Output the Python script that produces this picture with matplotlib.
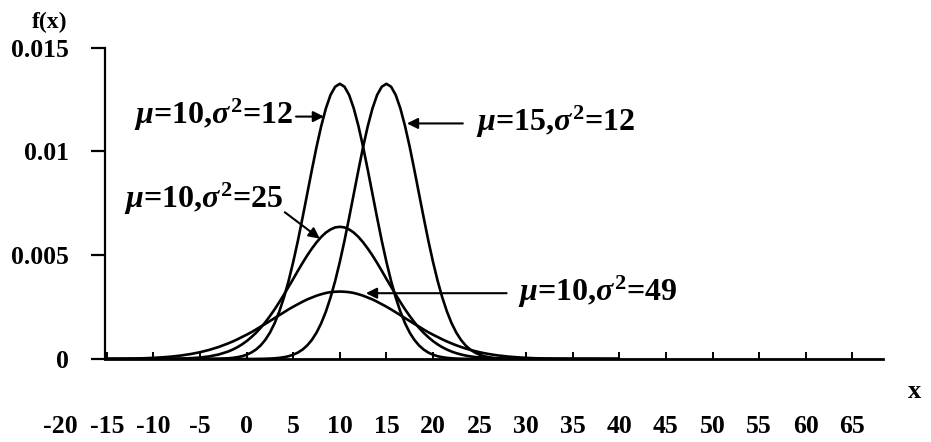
import matplotlib
matplotlib.use("Agg")
import matplotlib.pyplot as plt
import matplotlib.transforms as mtransforms

# ---------------- data ----------------
# integer x positions
x_vals = list(range(-15, 41))
# extra half-step positions around the peaks
x_half = [v + 0.5 for v in range(-2, 27)]

# mu=10, sigma^2=12
f_mu10_s12 = [0, 0, 0, 0, 0, 0, 0, 0, 0, 0,
              0.000001, 0.000004, 0.000012, 0.000033, 0.000086,
              0.000206, 0.000454, 0.00092, 0.00172, 0.00296,
              0.00468, 0.00681, 0.00911, 0.01122, 0.01272,
              0.01326,
              0.01272, 0.01122, 0.00911, 0.00681, 0.00468,
              0.00296, 0.00172, 0.00092, 0.000454, 0.000206,
              0.000086, 0.000033, 0.000012, 0.000004, 0.000001,
              0, 0, 0, 0, 0, 0, 0, 0, 0, 0, 0, 0, 0, 0, 0]
f_mu10_s12_half = [0.000054, 0.000134, 0.000309, 0.000653, 0.00127,
                   0.00228, 0.00376, 0.00570, 0.00796, 0.01022,
                   0.01207, 0.01312, 0.01312, 0.01207, 0.01022,
                   0.00796, 0.00570, 0.00376, 0.00228, 0.00127,
                   0.000653, 0.000309, 0.000134, 0.000054, 0.00002,
                   0.000007, 0.000002, 0.0000005, 0]

# mu=15, sigma^2=12
f_mu15_s12 = [0, 0, 0, 0, 0, 0, 0, 0, 0, 0, 0, 0, 0, 0, 0,
              0.000001, 0.000004, 0.000012, 0.000033, 0.000086,
              0.000206, 0.000454, 0.00092, 0.00172, 0.00296,
              0.00468, 0.00681, 0.00911, 0.01122, 0.01272,
              0.01326,
              0.01272, 0.01122, 0.00911, 0.00681, 0.00468,
              0.00296, 0.00172, 0.00092, 0.000454, 0.000206,
              0.000086, 0.000033, 0.000012, 0.000004, 0.000001,
              0, 0, 0, 0, 0, 0, 0, 0, 0, 0]
f_mu15_s12_half = [0, 0, 0.000002, 0.000007, 0.00002,
                   0.000054, 0.000134, 0.000309, 0.000653, 0.00127,
                   0.00228, 0.00376, 0.00570, 0.00796, 0.01022,
                   0.01207, 0.01312, 0.01312, 0.01207, 0.01022,
                   0.00796, 0.00570, 0.00376, 0.00228, 0.00127,
                   0.000653, 0.000309, 0.000134, 0.000054]

# mu=10, sigma^2=25
f_mu10_s25 = [0, 0, 0, 0.0000005, 0.000001,
              0.000002, 0.000005, 0.00001, 0.00002, 0.000038,
              0.000071, 0.000126, 0.000217, 0.000357, 0.000566,
              0.000862, 0.00126, 0.00177, 0.00239, 0.00310,
              0.00386, 0.00463, 0.00532, 0.00588, 0.00624,
              0.00637,
              0.00624, 0.00588, 0.00532, 0.00463, 0.00386,
              0.00310, 0.00239, 0.00177, 0.00126, 0.000862,
              0.000566, 0.000357, 0.000217, 0.000126, 0.000071,
              0.000038, 0.00002, 0.00001, 0.000005, 0.000002,
              0, 0, 0, 0, 0, 0, 0, 0, 0, 0]
f_mu10_s25_half = [0.000452, 0.000703, 0.00105, 0.00150, 0.00207,
                   0.00274, 0.00348, 0.00425, 0.00499, 0.00562,
                   0.00609, 0.00634, 0.00634, 0.00609, 0.00562,
                   0.00499, 0.00425, 0.00348, 0.00274, 0.00207,
                   0.00150, 0.00105, 0.000703, 0.000452, 0.00028,
                   0.000166, 0.000095, 0.000052, 0.000028]

# mu=10, sigma^2=49
f_mu10_s49 = [0.0000055, 0.000009, 0.000015, 0.000023, 0.000036,
              0.000055, 0.000082, 0.000119, 0.000170, 0.000239,
              0.000327, 0.000440, 0.000579, 0.000748, 0.000945,
              0.00117, 0.00142, 0.00169, 0.00197, 0.00225,
              0.00252, 0.00276, 0.00296, 0.00312, 0.00322,
              0.00325,
              0.00322, 0.00312, 0.00296, 0.00276, 0.00252,
              0.00225, 0.00197, 0.00169, 0.00142, 0.00117,
              0.000945, 0.000748, 0.000579, 0.000440, 0.000327,
              0.000239, 0.000170, 0.000119, 0.000082, 0.000055,
              0.000036, 0.000023, 0.000015, 0.000009, 0.0000055,
              0.000003, 0.000002, 0.000001, 0, 0]
f_mu10_s49_half = [0.000843, 0.00106, 0.00129, 0.00156, 0.00183,
                   0.00211, 0.00239, 0.00264, 0.00287, 0.00305,
                   0.00318, 0.00324, 0.00324, 0.00318, 0.00305,
                   0.00287, 0.00264, 0.00239, 0.00211, 0.00183,
                   0.00156, 0.00129, 0.00106, 0.000843, 0.00066,
                   0.000506, 0.00038, 0.00028, 0.000202]

x_ticks = [-15, -10, -5, 0, 5, 10, 15, 20, 25, 30, 35, 40, 45, 50, 55, 60, 65]
x_tick_labels = ["-15", "-10", "-5", "0", "5", "10", "15", "20", "25", "30",
                 "35", "40", "45", "50", "55", "60", "65"]
extra_x_label = "-20"
y_ticks = [0, 0.005, 0.01, 0.015]
y_tick_labels = ["0", "0.005", "0.01", "0.015"]

labels = [r"$\mu$=10,$\sigma^2$=12", r"$\mu$=15,$\sigma^2$=12",
          r"$\mu$=10,$\sigma^2$=25", r"$\mu$=10,$\sigma^2$=49"]

# ---------------- styling ----------------
plt.rcParams["font.family"] = ["Liberation Serif", "DejaVu Serif"]
plt.rcParams["font.weight"] = "bold"
plt.rcParams["mathtext.fontset"] = "custom"
plt.rcParams["mathtext.it"] = "Liberation Serif:italic:bold"
plt.rcParams["mathtext.rm"] = "Liberation Serif:bold"
plt.rcParams["mathtext.bf"] = "Liberation Serif:bold"

fig = plt.figure(figsize=(9.31, 4.42), dpi=100)
ax = fig.add_axes([0.1128, 0.1878, 0.8357, 0.7043])


def merged(full, half):
    pts = sorted(zip(x_vals + x_half, full + half))
    return [p[0] for p in pts], [p[1] for p in pts]


lw = 1.9
for full, half in ((f_mu10_s12, f_mu10_s12_half),
                   (f_mu15_s12, f_mu15_s12_half),
                   (f_mu10_s25, f_mu10_s25_half),
                   (f_mu10_s49, f_mu10_s49_half)):
    xs, ys = merged(full, half)
    ax.plot(xs, ys, color="black", lw=lw, solid_capstyle="round",
            solid_joinstyle="round")

ax.set_xlim(-15.2, 68.3)
ax.set_ylim(0, 0.015)

for s in ("top", "right"):
    ax.spines[s].set_visible(False)
ax.spines["left"].set_linewidth(1.6)
ax.spines["bottom"].set_linewidth(2.0)

tick_fs = 18.5
ax.set_xticks(x_ticks)
ax.set_xticklabels(x_tick_labels)
ax.set_yticks(y_ticks)
ax.set_yticklabels(y_tick_labels)
ax.tick_params(axis="x", direction="in", length=5, width=1.4, pad=40,
               labelsize=tick_fs)
ax.tick_params(axis="y", direction="out", length=10, width=1.6, pad=16,
               labelsize=tick_fs)
for t in ax.get_xticklabels() + ax.get_yticklabels():
    t.set_fontweight("bold")

# extra "-20" label outside the axis
trans = mtransforms.blended_transform_factory(ax.transData, ax.transAxes)
off = mtransforms.offset_copy(trans, fig=fig, x=0, y=-40, units="points")
ax.text(-20, 0, extra_x_label, transform=off, ha="center", va="top",
        fontsize=tick_fs, fontweight="bold", clip_on=False)

# axis titles
fig.text(50 / 931, 1 - 22 / 442, "f(x)", ha="center", va="center",
         fontsize=17, fontweight="bold")
fig.text(915 / 931, 1 - 391 / 442, "x", ha="center", va="center",
         fontsize=19, fontweight="bold")

# annotations with arrows
arrow = dict(arrowstyle="-|>", color="black", lw=1.5, mutation_scale=16,
             shrinkA=0, shrinkB=0)
fs = 23
ax.annotate("", xy=(8.3, 0.01168), xytext=(5.3, 0.01168), arrowprops=arrow)
ax.text(5.0, 0.01175, labels[0], ha="right", va="center", fontsize=fs,
        fontweight="bold")

ax.annotate("", xy=(17.2, 0.01135), xytext=(23.2, 0.01135), arrowprops=arrow)
ax.text(24.6, 0.01142, labels[1], ha="left", va="center", fontsize=fs,
        fontweight="bold")

ax.annotate("", xy=(7.85, 0.0058), xytext=(4.1, 0.00707), arrowprops=arrow)
ax.text(3.9, 0.0077, labels[2], ha="right", va="center", fontsize=fs,
        fontweight="bold")

ax.annotate("", xy=(12.8, 0.00317), xytext=(27.9, 0.00317), arrowprops=arrow)
ax.text(29.1, 0.00324, labels[3], ha="left", va="center", fontsize=fs,
        fontweight="bold")

fig.savefig("out.png", dpi=100, facecolor="white")
